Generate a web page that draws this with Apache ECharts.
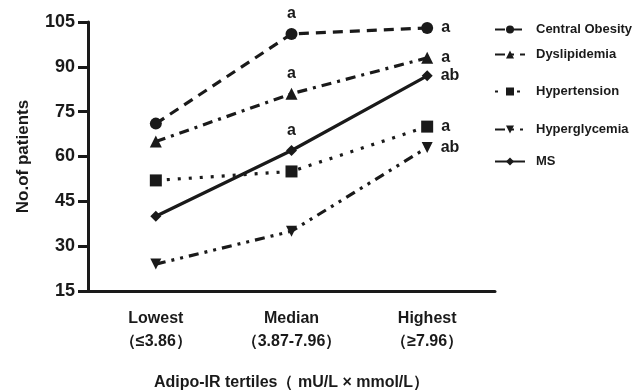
<!DOCTYPE html>
<html>
<head>
<meta charset="UTF-8">
<title>Adipo-IR tertiles</title>
<script src="https://cdn.jsdelivr.net/npm/echarts@6/dist/echarts.min.js"></script>
<style>
  html, body { margin: 0; padding: 0; background: #fff; }
  #chart { width: 642px; height: 392px; }
</style>
</head>
<body>
<div id="chart"></div>
<script>
var categories = ['Lowest\n（≤3.86）', 'Median\n（3.87-7.96）', 'Highest\n（≥7.96）'];
var yTicks = [15, 30, 45, 60, 75, 90, 105];

var centralObesity = [71, 101, 103];
var dyslipidemia = [65, 81, 93];
var hypertension = [52, 55, 70];
var hyperglycemia = [24, 35, 63];
var ms = [40, 62, 87];

// significance marks per point
var coMarks = ['', 'a', 'a'];
var dyMarks = ['', 'a', 'a'];
var htMarks = ['', '', 'a'];
var hgMarks = ['', '', 'ab'];
var msMarks = ['', 'a', 'ab'];

var font = 'Arial, "Liberation Sans", Helvetica, sans-serif';
var ink = '#1a1a1a';

function withMarks(values, marks) {
    return values.map(function (v, i) {
        var item = { value: v };
        if (marks[i]) {
            item.label = {
                show: true,
                formatter: marks[i],
                position: i === 2 ? 'right' : 'top',
                distance: i === 2 ? 8 : 6,
                color: ink,
                fontSize: 16,
                fontWeight: 'bold',
                fontFamily: font
            };
        }
        return item;
    });
}

function makeSeries(name, values, marks, symbol, type, size) {
    return {
        name: name,
        type: 'line',
        data: withMarks(values, marks),
        symbol: symbol,
        symbolSize: size,
        itemStyle: { color: ink },
        lineStyle: { color: ink, width: 3.2, type: type },
        emphasis: { disabled: true },
        animation: false,
        z: 3
    };
}

var legendTops = [18, 43, 80, 118, 150];
var names = ['Central Obesity', 'Dyslipidemia', 'Hypertension', 'Hyperglycemia', 'MS'];

var chart = echarts.init(document.getElementById('chart'));
chart.setOption({
    backgroundColor: '#fff',
    animation: false,
    grid: { left: 88, right: 147, top: 22, bottom: 101, outerBoundsMode: 'none', containLabel: false },
    legend: names.map(function (n, i) {
        return {
            data: [n],
            left: 489,
            top: legendTops[i],
            itemWidth: 30,
            itemHeight: 10,
            itemGap: 6,
            textStyle: { color: ink, fontSize: 13, fontWeight: 'bold', fontFamily: font, padding: [0, 0, 0, 6] }
        };
    }),
    xAxis: {
        type: 'category',
        data: categories,
        boundaryGap: true,
        name: 'Adipo-IR tertiles（ mU/L × mmol/L）',
        nameLocation: 'middle',
        nameGap: 84,
        nameTextStyle: { color: ink, fontSize: 16, fontWeight: 'bold', fontFamily: font },
        axisLine: { lineStyle: { color: ink, width: 3 } },
        axisTick: { alignWithLabel: true, length: 8, lineStyle: { width: 3, color: ink } },
        axisLabel: { color: ink, fontSize: 16, fontWeight: 'bold', fontFamily: font, margin: 16, lineHeight: 23 },
        splitLine: { show: false }
    },
    yAxis: {
        type: 'value',
        min: yTicks[0],
        max: yTicks[yTicks.length - 1],
        interval: 15,
        name: 'No.of patients',
        nameLocation: 'middle',
        nameGap: 56,
        nameTextStyle: { color: ink, fontSize: 17, fontWeight: 'bold', fontFamily: font },
        axisLine: { show: true, lineStyle: { color: ink, width: 3 } },
        axisTick: { show: true, length: 10, lineStyle: { width: 3, color: ink } },
        axisLabel: { color: ink, fontSize: 18, fontWeight: 'bold', fontFamily: font, margin: 13 },
        splitLine: { show: false }
    },
    series: [
        makeSeries('Central Obesity', centralObesity, coMarks, 'circle', [10, 7], 12),
        makeSeries('Dyslipidemia', dyslipidemia, dyMarks, 'triangle', [10, 6, 3, 6], 12),
        makeSeries('Hypertension', hypertension, htMarks, 'rect', [3, 8], 12),
        makeSeries('Hyperglycemia', hyperglycemia, hgMarks, 'path://M0,0 L10,0 L5,10 Z', [10, 6, 3, 6, 3, 6], 11),
        makeSeries('MS', ms, msMarks, 'diamond', 'solid', 11)
    ]
});
</script>
</body>
</html>
